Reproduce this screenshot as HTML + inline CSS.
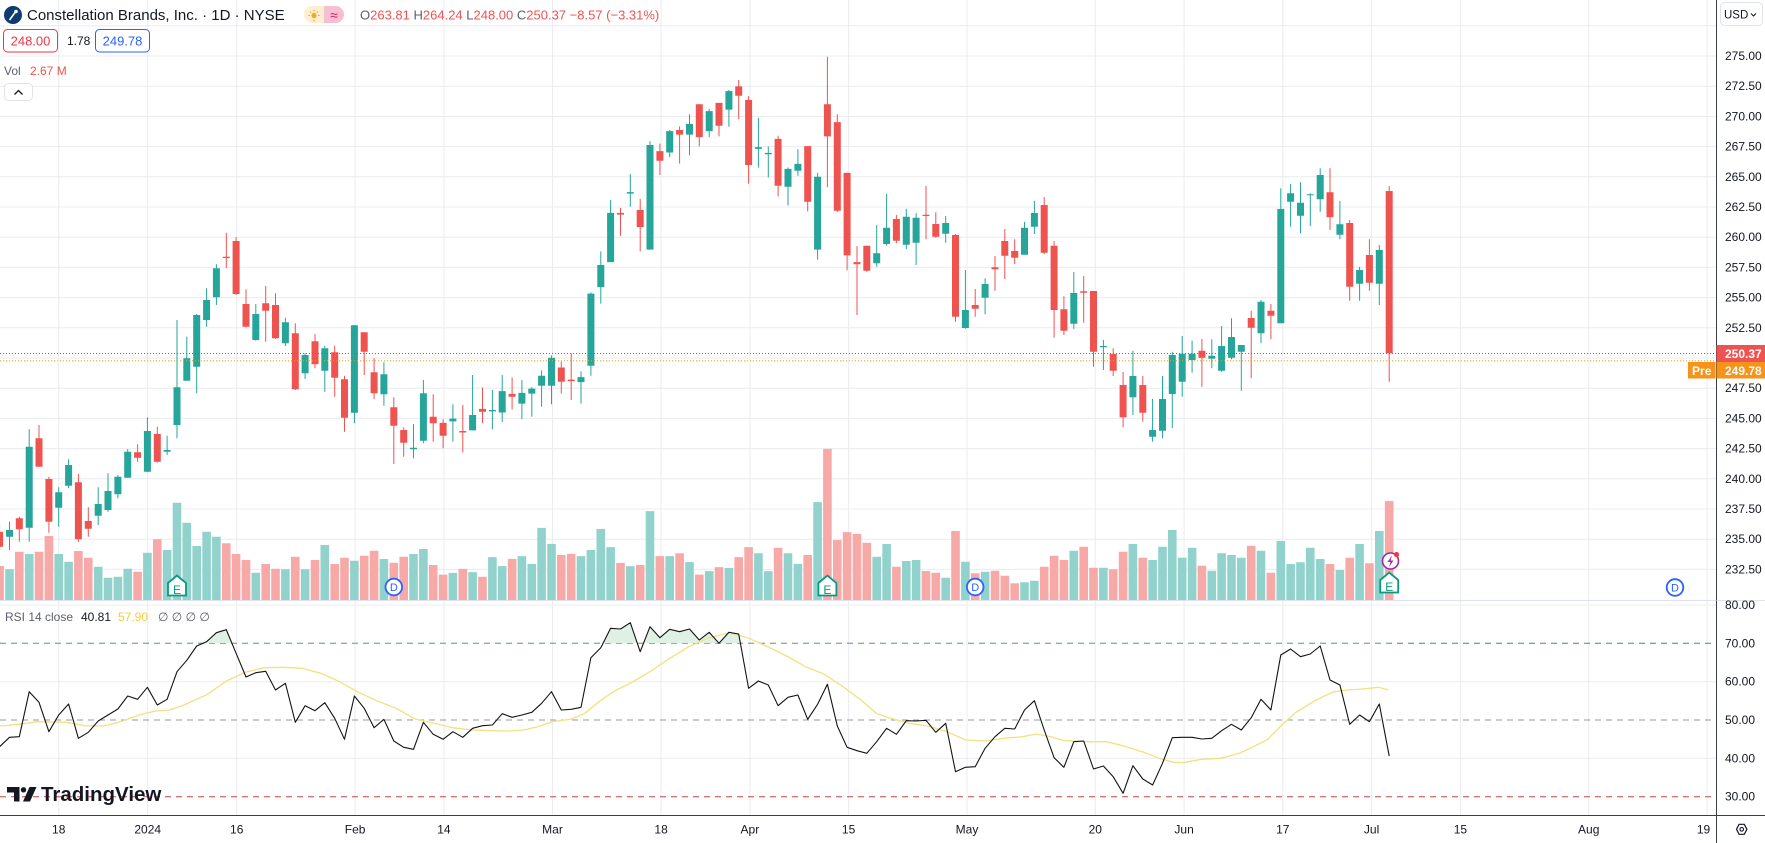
<!DOCTYPE html>
<html><head><meta charset="utf-8"><style>
html,body{margin:0;padding:0;background:#fff;width:1765px;height:843px;overflow:hidden}
svg{position:absolute;left:0;top:0;font-family:"Liberation Sans",sans-serif}
</style></head><body>
<svg width="1765" height="843" viewBox="0 0 1765 843" xmlns="http://www.w3.org/2000/svg">
<rect width="1765" height="843" fill="#fff"/>
<!-- horizontal gridlines main -->
<g stroke="#e9ecf1" stroke-width="1">
<path d="M0 25.8H1716M0 56H1716M0 86.2H1716M0 116.4H1716M0 146.6H1716M0 176.8H1716M0 207H1716M0 237.2H1716M0 267.4H1716M0 297.6H1716M0 327.8H1716M0 358H1716M0 388.2H1716M0 418.4H1716M0 448.6H1716M0 478.8H1716M0 509H1716M0 539.2H1716M0 569.4H1716"/>
<path d="M0 605H1716M0 681.7H1716M0 758.3H1716"/>
<path d="M58.7 0V815M147.7 0V815M236.7 0V815M355.1 0V815M443.9 0V815M552.5 0V815M661.1 0V815M749.9 0V815M848.6 0V815M967 0V815M1095.3 0V815M1184.1 0V815M1282.8 0V815M1371.6 0V815M1460.4 0V815M1588.7 0V815M1707.1 0V815"/>
</g>
<!-- pane separator -->
<path d="M0 600.5H1765" stroke="#e0e3eb" stroke-width="1.2"/>
<!-- volume -->
<path fill="#92d2cc" d="M5.2 569.3h8.6V600h-8.6zM24.9 554h8.6V600h-8.6zM54.4 554h8.6V600h-8.6zM64.3 561.7h8.6V600h-8.6zM93.9 566.7h8.6V600h-8.6zM103.7 577.7h8.6V600h-8.6zM113.6 576.7h8.6V600h-8.6zM123.4 568.7h8.6V600h-8.6zM143.1 552.7h8.6V600h-8.6zM162.8 550h8.6V600h-8.6zM172.7 502.7h8.6V600h-8.6zM182.5 522.7h8.6V600h-8.6zM192.4 546h8.6V600h-8.6zM202.3 531.7h8.6V600h-8.6zM212.1 536.7h8.6V600h-8.6zM251.5 572.7h8.6V600h-8.6zM281.1 569.3h8.6V600h-8.6zM300.8 569.3h8.6V600h-8.6zM320.5 545h8.6V600h-8.6zM350.1 560.7h8.6V600h-8.6zM379.6 559h8.6V600h-8.6zM409.2 554h8.6V600h-8.6zM419.1 549h8.6V600h-8.6zM448.6 572.9h8.6V600h-8.6zM468.3 572.1h8.6V600h-8.6zM488.1 557.1h8.6V600h-8.6zM497.9 566.1h8.6V600h-8.6zM517.6 556.1h8.6V600h-8.6zM527.5 563.9h8.6V600h-8.6zM537.3 527.9h8.6V600h-8.6zM547.2 543.9h8.6V600h-8.6zM576.7 556.1h8.6V600h-8.6zM586.6 550h8.6V600h-8.6zM596.5 528.9h8.6V600h-8.6zM606.3 547.1h8.6V600h-8.6zM626 566.1h8.6V600h-8.6zM645.7 511.1h8.6V600h-8.6zM665.4 556.1h8.6V600h-8.6zM685.2 562.1h8.6V600h-8.6zM704.9 571.1h8.6V600h-8.6zM724.6 567.9h8.6V600h-8.6zM754.1 553.2h8.6V600h-8.6zM764 571.1h8.6V600h-8.6zM783.7 553.2h8.6V600h-8.6zM793.6 563.9h8.6V600h-8.6zM813.3 502.1h8.6V600h-8.6zM872.4 556.7h8.6V600h-8.6zM882.3 544h8.6V600h-8.6zM902 561h8.6V600h-8.6zM911.8 560h8.6V600h-8.6zM941.4 577.7h8.6V600h-8.6zM961.1 561.7h8.6V600h-8.6zM980.8 571.7h8.6V600h-8.6zM1020.2 582.3h8.6V600h-8.6zM1030.1 580.7h8.6V600h-8.6zM1069.5 550.7h8.6V600h-8.6zM1099.1 567.7h8.6V600h-8.6zM1128.6 544h8.6V600h-8.6zM1148.3 560h8.6V600h-8.6zM1158.2 546.7h8.6V600h-8.6zM1168 530h8.6V600h-8.6zM1177.9 557.7h8.6V600h-8.6zM1187.8 547.7h8.6V600h-8.6zM1207.5 570.7h8.6V600h-8.6zM1217.3 553.3h8.6V600h-8.6zM1227.2 555h8.6V600h-8.6zM1237 557.7h8.6V600h-8.6zM1256.7 550.7h8.6V600h-8.6zM1276.5 541h8.6V600h-8.6zM1286.3 564h8.6V600h-8.6zM1296.2 562.3h8.6V600h-8.6zM1306 547.7h8.6V600h-8.6zM1315.9 559h8.6V600h-8.6zM1335.6 570h8.6V600h-8.6zM1355.3 544h8.6V600h-8.6zM1375 531h8.6V600h-8.6z"/>
<path fill="#f7a9a7" d="M-4.7 566h8.6V600h-8.6zM15 551.7h8.6V600h-8.6zM34.7 551.7h8.6V600h-8.6zM44.6 536h8.6V600h-8.6zM74.1 551h8.6V600h-8.6zM84 557.7h8.6V600h-8.6zM133.3 571.7h8.6V600h-8.6zM153 539.3h8.6V600h-8.6zM222 543.3h8.6V600h-8.6zM231.8 554h8.6V600h-8.6zM241.7 560h8.6V600h-8.6zM261.4 564h8.6V600h-8.6zM271.2 568.7h8.6V600h-8.6zM291 556.7h8.6V600h-8.6zM310.7 560h8.6V600h-8.6zM330.4 564h8.6V600h-8.6zM340.2 557.7h8.6V600h-8.6zM359.9 555.7h8.6V600h-8.6zM369.8 550.7h8.6V600h-8.6zM389.5 562.7h8.6V600h-8.6zM399.4 556.7h8.6V600h-8.6zM428.9 565h8.6V600h-8.6zM438.8 574.6h8.6V600h-8.6zM458.5 568.9h8.6V600h-8.6zM478.2 576.8h8.6V600h-8.6zM507.8 558.9h8.6V600h-8.6zM557 555h8.6V600h-8.6zM566.9 553.9h8.6V600h-8.6zM616.2 562.9h8.6V600h-8.6zM635.9 565h8.6V600h-8.6zM655.6 556.1h8.6V600h-8.6zM675.3 553.2h8.6V600h-8.6zM695 574.6h8.6V600h-8.6zM714.7 567.1h8.6V600h-8.6zM734.4 557.1h8.6V600h-8.6zM744.3 547.1h8.6V600h-8.6zM773.8 547.9h8.6V600h-8.6zM803.4 555h8.6V600h-8.6zM823.1 448.9h8.6V600h-8.6zM833 540h8.6V600h-8.6zM842.8 532.1h8.6V600h-8.6zM852.7 533.9h8.6V600h-8.6zM862.5 542.7h8.6V600h-8.6zM892.1 566.7h8.6V600h-8.6zM921.7 571h8.6V600h-8.6zM931.5 572.7h8.6V600h-8.6zM951.2 531h8.6V600h-8.6zM970.9 573.3h8.6V600h-8.6zM990.7 570.7h8.6V600h-8.6zM1000.5 575.7h8.6V600h-8.6zM1010.4 583.3h8.6V600h-8.6zM1039.9 566.7h8.6V600h-8.6zM1049.8 555.7h8.6V600h-8.6zM1059.6 560h8.6V600h-8.6zM1079.4 546.7h8.6V600h-8.6zM1089.2 567.7h8.6V600h-8.6zM1108.9 569.3h8.6V600h-8.6zM1118.8 551.7h8.6V600h-8.6zM1138.5 557.7h8.6V600h-8.6zM1197.6 565.7h8.6V600h-8.6zM1246.9 545.7h8.6V600h-8.6zM1266.6 572.7h8.6V600h-8.6zM1325.7 564h8.6V600h-8.6zM1345.4 557.7h8.6V600h-8.6zM1365.1 563.3h8.6V600h-8.6zM1384.9 501h8.6V600h-8.6z"/>
<!-- wicks -->
<path fill="none" stroke="#26a69a" stroke-width="1" d="M9.5 521.7V550M29.2 429.3V541.7M58.7 487.3V526.7M68.6 459.3V488.3M98.2 487.3V525M108 473.3V511.7M117.9 475V498.3M127.7 449V477.7M147.4 417.3V472.3M167.1 435.7V455M177 320V438.3M186.8 336.7V380.7M196.7 314V393.3M206.6 288.3V326.7M216.4 264.3V305M255.8 304V340.7M285.4 317.7V346M305.1 353.3V379M324.8 346V391.7M354.4 325V423.3M383.9 362.3V405.7M413.5 424V458.3M423.4 380V443.3M452.9 404.3V441.8M472.6 375V430.4M492.4 390V429.3M502.2 375V422.1M521.9 380V419.3M531.8 387.1V416.8M541.6 370.4V406.8M551.5 355.4V404.3M581 371.4V403.6M590.9 292.5V375.7M600.8 251.4V303.6M610.6 200V261.4M630.3 173.9V206.8M650 141.1V249.6M669.7 130V157.1M689.5 114.3V155.4M709.2 108.9V137.1M728.9 90V126.8M758.4 117.9V167.5M768.3 146.4V177.5M788 167.5V205.4M797.9 149.3V175.7M817.6 172.9V259.6M876.7 225V266.7M886.6 194V245.7M906.3 208.7V249M916.1 213.3V265M945.7 216V242.7M965.4 270V328.7M985.1 278.3V314.3M1024.5 222V254.7M1034.4 200.7V234M1073.8 272V329M1103.4 340V370M1132.9 350.7V415M1152.6 398.7V441.7M1162.5 376V438.3M1172.3 351.7V428.3M1182.2 336V396.7M1192.1 340.7V372.7M1211.8 339.3V368.3M1221.6 326V371.7M1231.5 318.3V359.3M1241.3 345V390.7M1261 300V343.3M1280.8 188.3V323.3M1290.6 184V226.7M1300.5 182.3V233.3M1310.3 193.3V226M1320.2 168.3V211.7M1339.9 201V239.3M1359.6 266.7V300.7M1379.3 245V305"/>
<path fill="none" stroke="#ef5350" stroke-width="1" d="M-0.4 525V550M19.3 516.7V541.7M39 425V466.7M48.9 476.7V532.7M78.4 474V541.7M88.3 507.3V536.7M137.6 444.3V461.7M157.3 426.7V462.7M226.3 232.7V268.3M236.1 237.3V295M246 289.3V327.3M265.7 286V341.7M275.5 293.3V339M295.3 323.3V390M315 334V368.3M334.7 345.7V396.7M344.5 375.7V431.7M364.2 332.3V375M374.1 358.3V399M393.8 397.3V464M403.7 427.3V456.7M433.2 394.3V441.8M443.1 419.3V448.2M462.8 405V452.5M482.5 387.5V423.2M512.1 377.5V409.6M561.3 361.4V393.6M571.2 353.2V400M620.5 207.9V235.7M640.2 198.9V251.4M659.9 143.6V175M679.6 126.4V163.6M699.3 104.3V146.4M719 102.9V136.4M738.7 80V119.3M748.6 96.1V183.6M778.1 135.7V196.4M807.7 146.1V211.4M827.4 56.8V187.1M837.3 114.3V212.1M847.1 172.9V270.4M857 246.1V315M866.8 245.7V271.7M896.4 215V243.3M926 186V239.3M935.8 212.3V237.7M955.5 234.3V321.7M975.2 289V316.7M995 256V290.7M1004.8 229V279M1014.7 239.3V264M1044.2 197V254.3M1054.1 241V337.7M1063.9 296.3V335M1083.7 276V322.7M1093.5 291V366.7M1113.2 348.3V376M1123.1 372V427.3M1142.8 376V421.7M1201.9 339V386.7M1251.2 310.7V378.3M1270.9 304V339.3M1330 168.3V230M1349.7 220V300.7M1369.4 239.3V290.7M1389.2 186V381.7"/>
<!-- bodies -->
<path fill="#26a69a" d="M6 530h7v6.7h-7zM25.7 446.7h7v81h-7zM55.2 492.3h7v15.4h-7zM65.1 465h7v20.7h-7zM94.7 504h7v11.7h-7zM104.5 491h7v19h-7zM114.4 476.7h7v17.6h-7zM124.2 451.7h7v26h-7zM143.9 431h7v40.7h-7zM163.6 450h7v1.7h-7zM173.5 387.3h7v37.7h-7zM183.3 358.3h7v22.4h-7zM193.2 315h7v51.7h-7zM203.1 300h7v20h-7zM212.9 268.3h7v29h-7zM252.3 314h7v26h-7zM281.9 322.3h7v21h-7zM301.6 355h7v18.3h-7zM321.3 348.3h7v22.4h-7zM350.9 325.3h7v87.4h-7zM380.4 374.3h7v20h-7zM410 447.7h7v1.6h-7zM419.9 393.3h7v47.4h-7zM449.4 418.6h7v2.8h-7zM469.1 415h7v15.4h-7zM488.9 410h7v1.4h-7zM498.7 391.1h7v21.4h-7zM518.4 392.9h7v10.7h-7zM528.3 388.6h7v5h-7zM538.1 375.7h7v10h-7zM548 357.9h7v27.8h-7zM577.5 377.1h7v5h-7zM587.4 293.6h7v72.1h-7zM597.3 265h7v22.1h-7zM607.1 212.9h7v49.2h-7zM626.8 192.1h7v1.5h-7zM646.5 145h7v104.6h-7zM666.2 131.1h7v21.4h-7zM686 123.9h7v10.7h-7zM705.7 111.1h7v20h-7zM725.4 91.1h7v18.5h-7zM754.9 147.1h7v1.8h-7zM764.8 152.9h7v1.4h-7zM784.5 168.9h7v17.9h-7zM794.4 163.9h7v6.8h-7zM814.1 176.8h7v72.8h-7zM873.2 253.3h7v10h-7zM883.1 227.7h7v16.3h-7zM902.8 216.7h7v28h-7zM912.6 217.7h7v25h-7zM942.2 223h7v10.7h-7zM961.9 310h7v18h-7zM981.6 284h7v13.7h-7zM1021 227.7h7v27h-7zM1030.9 213h7v13.7h-7zM1070.3 293h7v30.7h-7zM1099.9 346h7v1.3h-7zM1129.4 376h7v21.3h-7zM1149.1 430h7v6.7h-7zM1159 399h7v31.7h-7zM1168.8 355h7v39h-7zM1178.7 353.7h7v28h-7zM1188.6 353.7h7v6.3h-7zM1208.3 355.7h7v3h-7zM1218.1 346h7v24.7h-7zM1228 337h7v20.7h-7zM1237.8 345h7v6.7h-7zM1257.5 301.7h7v31.6h-7zM1277.3 209h7v114.3h-7zM1287.1 193.3h7v8.4h-7zM1297 202.7h7v13h-7zM1306.8 194.3h7v1h-7zM1316.7 175h7v24.3h-7zM1336.4 224.3h7v10.4h-7zM1356.1 270h7v13.7h-7zM1375.8 250h7v33.7h-7z"/>
<path fill="#ef5350" d="M-3.9 531.7h7v15h-7zM15.8 518.3h7v11h-7zM35.5 438.3h7v28.4h-7zM45.4 479h7v42.7h-7zM74.9 482.3h7v57h-7zM84.8 521h7v7.7h-7zM134.1 452.3h7v5.4h-7zM153.8 434h7v27.7h-7zM222.8 256.7h7v1.3h-7zM232.6 241h7v53h-7zM242.5 304h7v22.7h-7zM262.2 303.3h7v7.4h-7zM272 305h7v33.3h-7zM291.8 333.3h7v56h-7zM311.5 341.3h7v23h-7zM331.2 352.3h7v25.4h-7zM341 379.3h7v38.4h-7zM360.7 332.3h7v19.4h-7zM370.6 372.3h7v21h-7zM390.3 407.3h7v18.4h-7zM400.2 430h7v12.7h-7zM429.7 416.8h7v6.4h-7zM439.6 422.9h7v12.8h-7zM459.3 431h7v1.5h-7zM479 408.9h7v2.9h-7zM508.6 393.9h7v2.9h-7zM557.8 367.5h7v14.3h-7zM567.7 379.6h7v1.5h-7zM617 212.9h7v1.7h-7zM636.7 210h7v17.1h-7zM656.4 151.1h7v9.6h-7zM676.1 130h7v4.6h-7zM695.8 104.3h7v32.8h-7zM715.5 102.9h7v22.8h-7zM735.2 86.4h7v9.3h-7zM745.1 100h7v65h-7zM774.6 138.9h7v46.8h-7zM804.2 146.1h7v55.7h-7zM823.9 104.3h7v32.1h-7zM833.8 122.1h7v88.6h-7zM843.6 172.9h7v82.5h-7zM853.5 262.1h7v2.2h-7zM863.3 245.7h7v25h-7zM892.9 219h7v21.7h-7zM922.5 214.7h7v1.3h-7zM932.3 224h7v12.7h-7zM952 235h7v81.7h-7zM971.7 305h7v3.7h-7zM991.5 267.3h7v2h-7zM1001.3 241h7v14.7h-7zM1011.2 251h7v6.7h-7zM1040.7 205h7v47.7h-7zM1050.6 245.7h7v64.3h-7zM1060.4 309.3h7v21.4h-7zM1080.2 291.3h7v1.4h-7zM1090 291h7v60.7h-7zM1109.7 354h7v16.7h-7zM1119.6 385h7v32.3h-7zM1139.3 385h7v27.7h-7zM1198.4 350.7h7v7h-7zM1247.7 318h7v9.7h-7zM1267.4 310.7h7v5h-7zM1326.5 192.3h7v25h-7zM1346.2 223h7v63.7h-7zM1365.9 255h7v27.7h-7zM1385.7 191h7v162.3h-7z"/>
<!-- price lines -->
<path d="M0 353.5H1716" stroke="#f23645" stroke-width="1" stroke-dasharray="1 2"/>
<path d="M0 360.7H1716" stroke="#ff9800" stroke-width="1" stroke-dasharray="1 2"/>
<!-- markers: earnings -->
<g fill="#fff" stroke="#089981" stroke-width="1.8">
<path d="M168 583l9-7.5 9 7.5v12.5h-18z"/>
<path d="M818.4 583l9-7.5 9 7.5v12.5h-18z"/>
<path d="M1380.2 580l9-7.5 9 7.5v12.5h-18z"/>
</g>
<g fill="#089981" font-size="12" text-anchor="middle">
<text x="177" y="594">E</text><text x="827.4" y="594">E</text><text x="1389.2" y="591">E</text>
</g>
<!-- dividends -->
<g fill="#fff" stroke="#2962ff" stroke-width="1.8">
<circle cx="393.8" cy="587" r="8.3"/><circle cx="975.2" cy="587" r="8.3"/><circle cx="1675" cy="587.5" r="8.3"/>
</g>
<g fill="#2962ff" font-size="11" text-anchor="middle">
<text x="393.8" y="591">D</text><text x="975.2" y="591">D</text><text x="1675" y="591.5">D</text>
</g>
<!-- lightning -->
<circle cx="1390.5" cy="561" r="8" fill="#fff" stroke="#9c27b0" stroke-width="1.6"/>
<path d="M1392 555.5l-4.5 6.5h3l-1.5 5 4.5-6.5h-3z" fill="#9c27b0"/>
<circle cx="1396.5" cy="554.5" r="2.6" fill="#f23645"/>
<!-- RSI bands -->
<path d="M0 643.3H1716" stroke="#4f8a63" stroke-width="1" stroke-dasharray="6 5"/>
<path d="M0 720H1716" stroke="#9598a1" stroke-width="1" stroke-dasharray="6 5"/>
<path d="M0 796.7H1716" stroke="#c8453f" stroke-width="1" stroke-dasharray="6 5"/>
<defs><clipPath id="ob"><rect x="0" y="600" width="1716" height="43.3"/></clipPath></defs>
<polygon clip-path="url(#ob)" fill="#dff1e4" points="-0.4,643.3 -0.4,746.7 9.5,737.3 19.3,736.7 29.2,691.7 39,702.3 48.9,731.7 58.7,715 68.6,704 78.4,738.3 88.3,732.3 98.2,721 108,715 117.9,709 127.7,696 137.6,699.3 147.4,687.3 157.3,705 167.1,699.3 177,671.7 186.8,660.3 196.7,646 206.6,641.7 216.4,632.7 226.3,629.7 236.1,653.3 246,677 255.8,672.7 265.7,671.3 275.5,690 285.4,683.3 295.3,722.3 305.1,705.7 315,710.7 324.8,702.7 334.7,718.3 344.5,739.3 354.4,696 364.2,708.3 374.1,727.7 383.9,719.3 393.8,741 403.7,747.3 413.5,749.3 423.4,722.3 433.2,734.3 443.1,739.3 452.9,731.7 462.8,737.3 472.6,728.3 482.5,725.7 492.4,725 502.2,713.7 512.1,717.3 521.9,715 531.8,712.3 541.6,703.3 551.5,691.7 561.3,710 571.2,709.3 581,707.3 590.9,657.7 600.8,647.7 610.6,628.3 620.5,629 630.3,622.7 640.2,651.7 650,626.7 659.9,637.7 669.7,629.3 679.6,631.7 689.5,629 699.3,640 709.2,632.3 719,643.3 728.9,632.3 738.7,634 748.6,688.3 758.4,681 1389.2,700 1389.2,643.3"/>
<!-- RSI MA -->
<polyline fill="none" stroke="#f3e07f" stroke-width="1.3" points="0,726 18.9,724.3 37.7,721.7 66,722.3 84.9,725.7 103.8,726 122.6,721 141.5,714.3 155.7,711 169.8,710 184,705 207.5,694.3 226.4,681 245.3,672.3 264.2,667.7 283,667.3 301.9,668.3 320.8,673.3 339.6,681.7 358.5,692.3 377.4,701 396.2,708.3 415.1,719 434,723.3 452.8,727.7 471.7,730 490.6,730.7 509.4,731 523.6,730 537.7,726.7 551.9,721.7 570.8,719.3 584.9,713.3 599.1,701.7 613.2,691.7 632.1,682.3 650.9,671 669.8,658.3 688.7,646.7 707.5,638.3 730,632.7 748.9,638.3 767.7,646.7 786.6,656 805.5,666.7 824.3,674.3 843.2,686.7 862.1,701 876.2,713.3 890.4,718.3 909.2,723.3 928.1,726 947,731.7 965.8,740 984.7,741 1003.6,738.3 1022.5,736.7 1036.6,734 1050.8,736.7 1064.9,740.7 1088.5,741.7 1107.4,741.7 1126.2,746.7 1145.1,752.7 1159.2,758.3 1173.4,762.3 1182.8,762.7 1201.7,759.3 1220.6,758.3 1239.4,753.3 1253.6,746.7 1267.7,739.3 1281.9,725 1296,712.3 1314.9,700.7 1333.8,691.7 1347.9,690 1362.1,689 1378.5,687.3 1388.5,690"/>
<!-- RSI line -->
<polyline fill="none" stroke="#131313" stroke-width="1.1" stroke-linejoin="round" points="-0.4,746.7 9.5,737.3 19.3,736.7 29.2,691.7 39,702.3 48.9,731.7 58.7,715 68.6,704 78.4,738.3 88.3,732.3 98.2,721 108,715 117.9,709 127.7,696 137.6,699.3 147.4,687.3 157.3,705 167.1,699.3 177,671.7 186.8,660.3 196.7,646 206.6,641.7 216.4,632.7 226.3,629.7 236.1,653.3 246,677 255.8,672.7 265.7,671.3 275.5,690 285.4,683.3 295.3,722.3 305.1,705.7 315,710.7 324.8,702.7 334.7,718.3 344.5,739.3 354.4,696 364.2,708.3 374.1,727.7 383.9,719.3 393.8,741 403.7,747.3 413.5,749.3 423.4,722.3 433.2,734.3 443.1,739.3 452.9,731.7 462.8,737.3 472.6,728.3 482.5,725.7 492.4,725 502.2,713.7 512.1,717.3 521.9,715 531.8,712.3 541.6,703.3 551.5,691.7 561.3,710 571.2,709.3 581,707.3 590.9,657.7 600.8,647.7 610.6,628.3 620.5,629 630.3,622.7 640.2,651.7 650,626.7 659.9,637.7 669.7,629.3 679.6,631.7 689.5,629 699.3,640 709.2,632.3 719,643.3 728.9,632.3 738.7,634 748.6,688.3 758.4,681 768.3,685 778.1,705.7 788,697.3 797.9,695 807.7,719.3 817.6,704.3 827.4,684.3 837.3,726 847.1,747.3 857,750.7 866.8,753.3 876.7,741.7 886.6,728.3 896.4,734.3 906.3,720.7 916.1,721 926,720.3 935.8,732.3 945.7,723.3 955.5,771.7 965.4,767.3 975.2,766.7 985.1,748.3 995,736.7 1004.8,728.3 1014.7,729 1024.5,710 1034.4,700.7 1044.2,730 1054.1,757.7 1063.9,767.3 1073.8,741.7 1083.7,741 1093.5,769 1103.4,766 1113.2,776.7 1123.1,793.3 1132.9,765.7 1142.8,779 1152.6,785 1162.5,763.3 1172.3,737.7 1182.2,737.3 1192.1,737.3 1201.9,739 1211.8,738.3 1221.6,730.7 1231.5,724.3 1241.3,730 1251.2,717.7 1261,699.3 1270.9,710 1280.8,655 1290.6,649 1300.5,656.7 1310.3,654 1320.2,646 1330,680 1339.9,685 1349.7,724.3 1359.6,715 1369.4,721.7 1379.3,704 1389.2,756"/>
<!-- legend header -->
<circle cx="13" cy="15" r="9" fill="#0f3b73"/>
<path d="M9.5 20l5.5-7.5" stroke="#fff" stroke-width="1.6"/><circle cx="16" cy="11.5" r="1.8" fill="#fff"/>
<text x="27" y="20" font-size="15" fill="#131722">Constellation Brands, Inc. · 1D · NYSE</text>
<rect x="304" y="6" width="40" height="17" rx="8.5" fill="#fdefd2"/>
<path d="M324 6h11.5a8.5 8.5 0 0 1 0 17H324z" fill="#f7bfd3"/>
<circle cx="314" cy="15.5" r="2.6" fill="#f5a623"/>
<path d="M314 9.8v1.6M314 19.6v1.6M308.3 15.5h1.6M318.1 15.5h1.6M310 11.5l1.1 1.1M318 11.5l-1.1 1.1" stroke="#f5a623" stroke-width="1.1"/>
<text x="334" y="20" font-size="14" fill="#d81b60" text-anchor="middle">≈</text>
<text x="360" y="19.5" font-size="13"><tspan fill="#5d606b">O</tspan><tspan fill="#ef5350">263.81 </tspan><tspan fill="#5d606b">H</tspan><tspan fill="#ef5350">264.24 </tspan><tspan fill="#5d606b">L</tspan><tspan fill="#ef5350">248.00 </tspan><tspan fill="#5d606b">C</tspan><tspan fill="#ef5350">250.37 −8.57 (−3.31%)</tspan></text>
<rect x="3.5" y="29.5" width="54" height="22.5" rx="4" fill="#fff" stroke="#f23645"/>
<text x="30.5" y="45.5" font-size="13" fill="#f23645" text-anchor="middle">248.00</text>
<text x="67" y="45" font-size="12" fill="#131722">1.78</text>
<rect x="95.5" y="29.5" width="54" height="22.5" rx="4" fill="#fff" stroke="#2962ff"/>
<text x="122.5" y="45.5" font-size="13" fill="#2962ff" text-anchor="middle">249.78</text>
<text x="4" y="75" font-size="12" fill="#5d606b">Vol</text>
<text x="30" y="75" font-size="12" fill="#ef5350">2.67 M</text>
<rect x="4.5" y="83.5" width="28" height="17" rx="4" fill="#fff" stroke="#e0e3eb"/>
<path d="M14.5 94.5l4-4 4 4" fill="none" stroke="#131722" stroke-width="1.3"/>
<!-- RSI legend -->
<text x="5" y="621" font-size="12" fill="#5d606b">RSI 14 close</text>
<text x="81" y="621" font-size="12" fill="#131722">40.81</text>
<text x="118" y="621" font-size="12" fill="#f2cf3a">57.90</text>
<text x="158" y="621" font-size="12" fill="#5d606b">∅ ∅ ∅ ∅</text>
<!-- TradingView logo -->
<path d="M7 787h12.5v14.5h-5.5v-9h-7z" fill="#131722"/>
<circle cx="23.5" cy="789.8" r="2.7" fill="#131722"/>
<path d="M29.5 787h7l-6.5 14.5h-7z" fill="#131722"/>
<text x="41" y="801" font-size="20.5" font-weight="bold" fill="#131722">TradingView</text>
<!-- axes -->
<rect x="1716.5" y="0" width="48.5" height="843" fill="#fff"/>
<path d="M1716.5 0V843" stroke="#3a3e48" stroke-width="1"/>
<path d="M0 815.5H1765" stroke="#3a3e48" stroke-width="1"/>
<path d="M1716.5 600.5H1765" stroke="#e0e3eb" stroke-width="1"/>
<rect x="1720.5" y="2.5" width="42" height="23" rx="4" fill="#fff" stroke="#e0e3eb"/>
<text x="1724" y="18.5" font-size="11.5" fill="#131722">USD</text>
<path d="M1751 13.5l2.5 2.5 2.5-2.5" fill="none" stroke="#131722" stroke-width="1.1"/>
<g font-size="12" fill="#131722">
<text x="1725" y="60">275.00</text><text x="1725" y="90.2">272.50</text><text x="1725" y="120.4">270.00</text><text x="1725" y="150.6">267.50</text><text x="1725" y="180.8">265.00</text><text x="1725" y="211">262.50</text><text x="1725" y="241.2">260.00</text><text x="1725" y="271.4">257.50</text><text x="1725" y="301.6">255.00</text><text x="1725" y="331.8">252.50</text><text x="1725" y="392.2">247.50</text><text x="1725" y="422.4">245.00</text><text x="1725" y="452.6">242.50</text><text x="1725" y="482.8">240.00</text><text x="1725" y="513">237.50</text><text x="1725" y="543.2">235.00</text><text x="1725" y="573.4">232.50</text>
<text x="1725" y="609">80.00</text><text x="1725" y="647.3">70.00</text><text x="1725" y="685.7">60.00</text><text x="1725" y="724">50.00</text><text x="1725" y="762.3">40.00</text><text x="1725" y="800.7">30.00</text>
</g>
<rect x="1716.5" y="345" width="48.5" height="17" fill="#ef5350"/>
<text x="1725" y="358" font-size="12" font-weight="bold" fill="#fff">250.37</text>
<rect x="1716.5" y="362" width="48.5" height="16.5" fill="#f7931a"/>
<text x="1725" y="374.8" font-size="12" font-weight="bold" fill="#fff">249.78</text>
<rect x="1688" y="362" width="27.5" height="16.5" fill="#f7931a"/>
<text x="1701.7" y="374.8" font-size="12" font-weight="bold" fill="#fff" text-anchor="middle">Pre</text>
<g font-size="12" fill="#131722" text-anchor="middle">
<text x="58.7" y="833.5">18</text><text x="147.7" y="833.5">2024</text><text x="236.7" y="833.5">16</text><text x="355.1" y="833.5">Feb</text><text x="443.9" y="833.5">14</text><text x="552.5" y="833.5">Mar</text><text x="661.1" y="833.5">18</text><text x="749.9" y="833.5">Apr</text><text x="848.6" y="833.5">15</text><text x="967" y="833.5">May</text><text x="1095.3" y="833.5">20</text><text x="1184.1" y="833.5">Jun</text><text x="1282.8" y="833.5">17</text><text x="1371.6" y="833.5">Jul</text><text x="1460.4" y="833.5">15</text><text x="1588.7" y="833.5">Aug</text><text x="1703.5" y="833.5">19</text>
</g>
<path d="M1736.5 829.3l2.6-5h5.2l2.6 5-2.6 5h-5.2z" fill="none" stroke="#131722" stroke-width="1.2"/>
<circle cx="1741.7" cy="829.3" r="1.8" fill="none" stroke="#131722" stroke-width="1.1"/>
</svg>
</body></html>
